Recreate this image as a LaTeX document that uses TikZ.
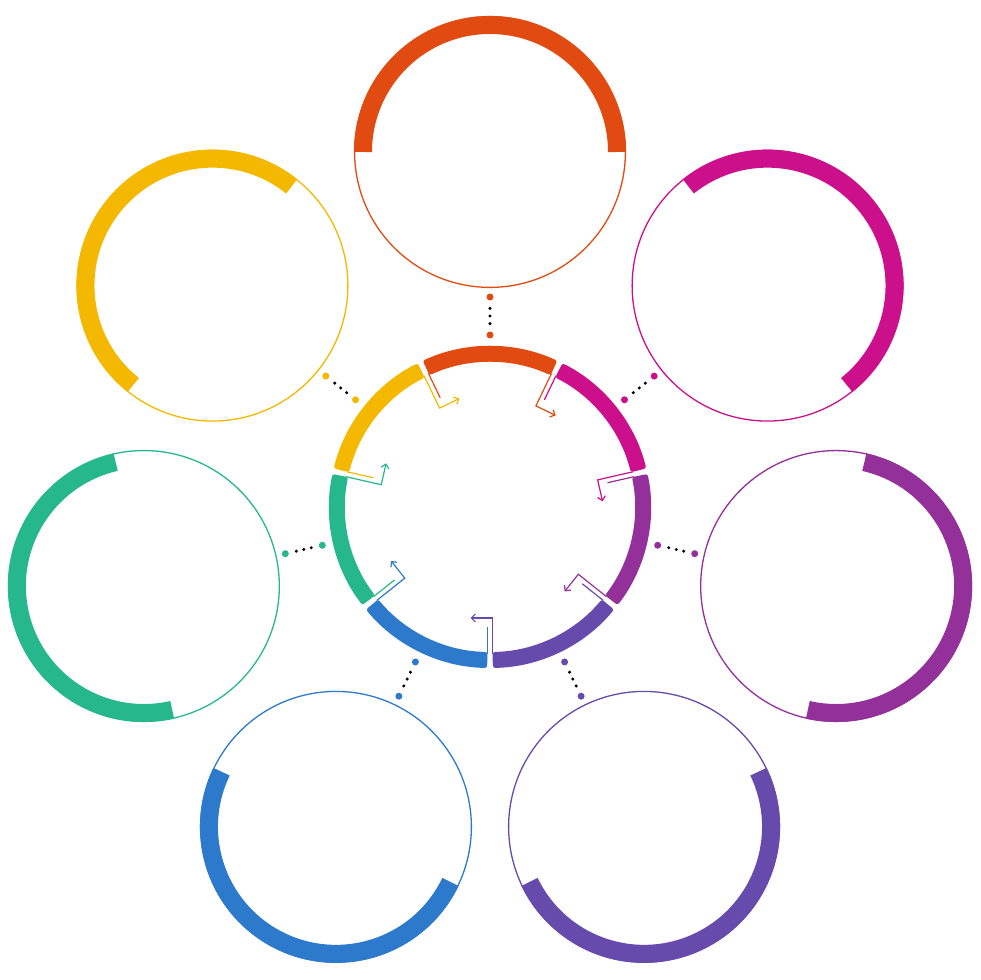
\documentclass[tikz,border=0pt]{standalone}
\usetikzlibrary{arrows.meta}
\definecolor{cO}{HTML}{E14B12}
\definecolor{cM}{HTML}{CC108C}
\definecolor{cP}{HTML}{93309A}
\definecolor{cV}{HTML}{664AAC}
\definecolor{cB}{HTML}{2D7ACD}
\definecolor{cG}{HTML}{26B88C}
\definecolor{cY}{HTML}{F5B800}
\begin{document}
\begin{tikzpicture}[x=1pt,y=1pt,
  thinring/.style={line width=1.3pt},
  thickarc/.style={line width=18pt},
  gapline/.style={line width=1.2pt},
  gaparrow/.style={line width=1.2pt,-{Straight Barb[length=4pt,width=8pt,line width=1.2pt]}},
  enddot/.style={circle,inner sep=0pt,minimum size=7pt},
  smalldot/.style={circle,fill=black,inner sep=0pt,minimum size=3.4pt}]
\useasboundingbox (0,0) rectangle (980,980);
\coordinate (C) at (490,473);
\foreach \a/\col/\ncol [count=\i] in {90/cO/cM, 38.5714/cM/cP, -12.8571/cP/cV, -64.2857/cV/cB, -115.7143/cB/cG, -167.1429/cG/cY, -218.5714/cY/cO}{
  \begin{scope}[shift={(C)}]
    \coordinate (O\i) at (\a:355);
    \coordinate (Da\i) at (\a:172);
    \coordinate (Db\i) at (\a:210);
    % ring segment
    \fill[\col, rounded corners=2.5pt] ({\a+24.7}:161) arc[start angle={\a+24.7}, end angle={\a-24.7}, radius=161]
      -- ({\a-24.7}:145) arc[start angle={\a-24.7}, end angle={\a+24.7}, radius=145] -- cycle;
  \end{scope}
  % outer circle
  \draw[\col, thinring] (O\i) circle[radius=135.4];
  \begin{scope}[shift={(O\i)}]
    \draw[\col, thickarc] ({\a-90}:127) arc[start angle={\a-90}, end angle={\a+90}, radius=127];
  \end{scope}
  % dotted connector
  \node[enddot, fill=\col] (ea\i) at (Da\i) {};
  \node[enddot, fill=\col] (eb\i) at (Db\i) {};
  \path (ea\i) -- (eb\i)
    node[smalldot, pos=0.25] {}
    node[smalldot, pos=0.5] {}
    node[smalldot, pos=0.75] {};
  % gap arrow
  \begin{scope}[shift={(C)}, rotate={\a-25.7143}]
    \coordinate (Ga\i) at (147,2.5);
    \coordinate (Gb\i) at (111,2.5);
    \coordinate (Gc\i) at (111,-19.5);
    \coordinate (Ha\i) at (147,-2.5);
    \coordinate (Hb\i) at (120,-2.5);
  \end{scope}
  \draw[\col, gaparrow] (Ga\i) -- (Gb\i) -- (Gc\i);
  \draw[\ncol, gapline] (Ha\i) -- (Hb\i);
}
\end{tikzpicture}
\end{document}
